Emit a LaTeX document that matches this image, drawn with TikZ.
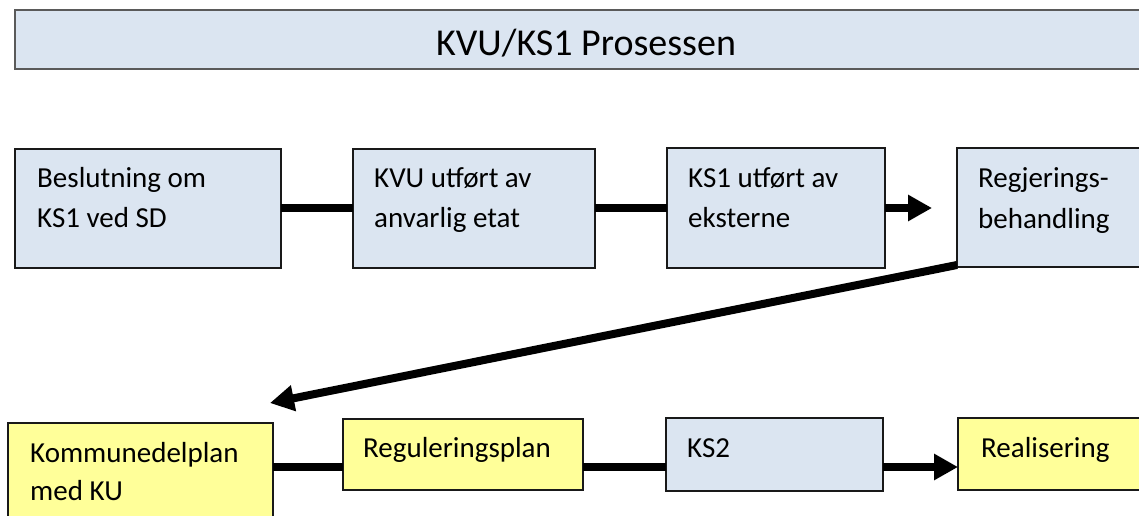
\documentclass[tikz,border=0pt]{standalone}
\usepackage{fontspec}
\setmainfont{Carlito}
\usetikzlibrary{arrows.meta,calc}
\definecolor{paleblue}{HTML}{DBE5F1}
\definecolor{paleyellow}{HTML}{FFFF99}
\definecolor{framegray}{HTML}{5A5A5A}
\begin{document}
\begin{tikzpicture}[x=1pt,y=-1pt,
  stepbox/.style={draw=black!90, line width=2pt, inner sep=0pt, outer sep=0pt, anchor=north west},
  bluebox/.style={stepbox, fill=paleblue},
  yellowbox/.style={stepbox, fill=paleyellow},
  txt/.style={anchor=base west, inner sep=0pt, font=\fontsize{29}{35}\selectfont},
  link/.style={line width=8pt},
  flow/.style={line width=8pt, -{Triangle[length=24pt,width=25pt]}},
]
\useasboundingbox (0,0) rectangle (1139,516);
\clip (0,0) rectangle (1139,516);

% heading bar
\node[stepbox, fill=paleblue, draw=framegray, line width=1.5pt,
      minimum width=1140pt, minimum height=59pt] (title) at (15,10) {};
\node[anchor=base, inner sep=0pt, font=\fontsize{38}{44}\selectfont] (titletext) at (586,56) {KVU/KS1 Prosessen};

% first row
\node[bluebox, minimum width=266pt, minimum height=119pt] (b1) at (15,149) {};
\node[bluebox, minimum width=242pt, minimum height=119pt] (b2) at (353,149) {};
\node[bluebox, minimum width=218pt, minimum height=120pt] (b3) at (667,148) {};
\node[bluebox, minimum width=200pt, minimum height=119pt] (b4) at (957,148) {};

\node[txt] (b1a) at (37,187) {Beslutning om};
\node[txt] (b1b) at (37,227) {KS1 ved SD};
\node[txt] (b2a) at (374,187) {KVU utført av};
\node[txt] (b2b) at (374,227) {anvarlig etat};
\node[txt] (b3a) at (688,187) {KS1 utført av};
\node[txt] (b3b) at (688,227) {eksterne};
\node[txt] (b4a) at (978,187) {Regjerings-};
\node[txt] (b4b) at (978,228) {behandling};

% second row
\node[yellowbox, minimum width=265pt, minimum height=120pt] (c1) at (8,423) {};
\node[yellowbox, minimum width=240pt, minimum height=71pt] (c2) at (343,419) {};
\node[bluebox, minimum width=217pt, minimum height=73pt] (c3) at (666,418) {};
\node[yellowbox, minimum width=200pt, minimum height=72pt] (c4) at (958,418) {};

\node[txt] (c1a) at (30,462) {Kommunedelplan};
\node[txt] (c1b) at (30,500) {med KU};
\node[txt] (c2a) at (363,457) {Reguleringsplan};
\node[txt] (c3a) at (687,457) {KS2};
\node[txt] (c4a) at (981,457) {Realisering};

% connectors
\coordinate (row1) at (0,208);
\coordinate (row2) at (0,467);
\coordinate (toB4) at (932,208);
\coordinate (toC1) at (270,403);

\draw[link] (b1.east |- row1) -- (b2.west |- row1);
\draw[link] (b2.east |- row1) -- (b3.west |- row1);
\draw[flow] (b3.east |- row1) -- (toB4);
\draw[flow] ($(b4.south west)+(0,-2)$) -- (toC1);

\draw[link] (c1.east |- row2) -- (c2.west |- row2);
\draw[link] (c2.east |- row2) -- (c3.west |- row2);
\draw[flow] (c3.east |- row2) -- (c4.west |- row2);
\end{tikzpicture}
\end{document}
